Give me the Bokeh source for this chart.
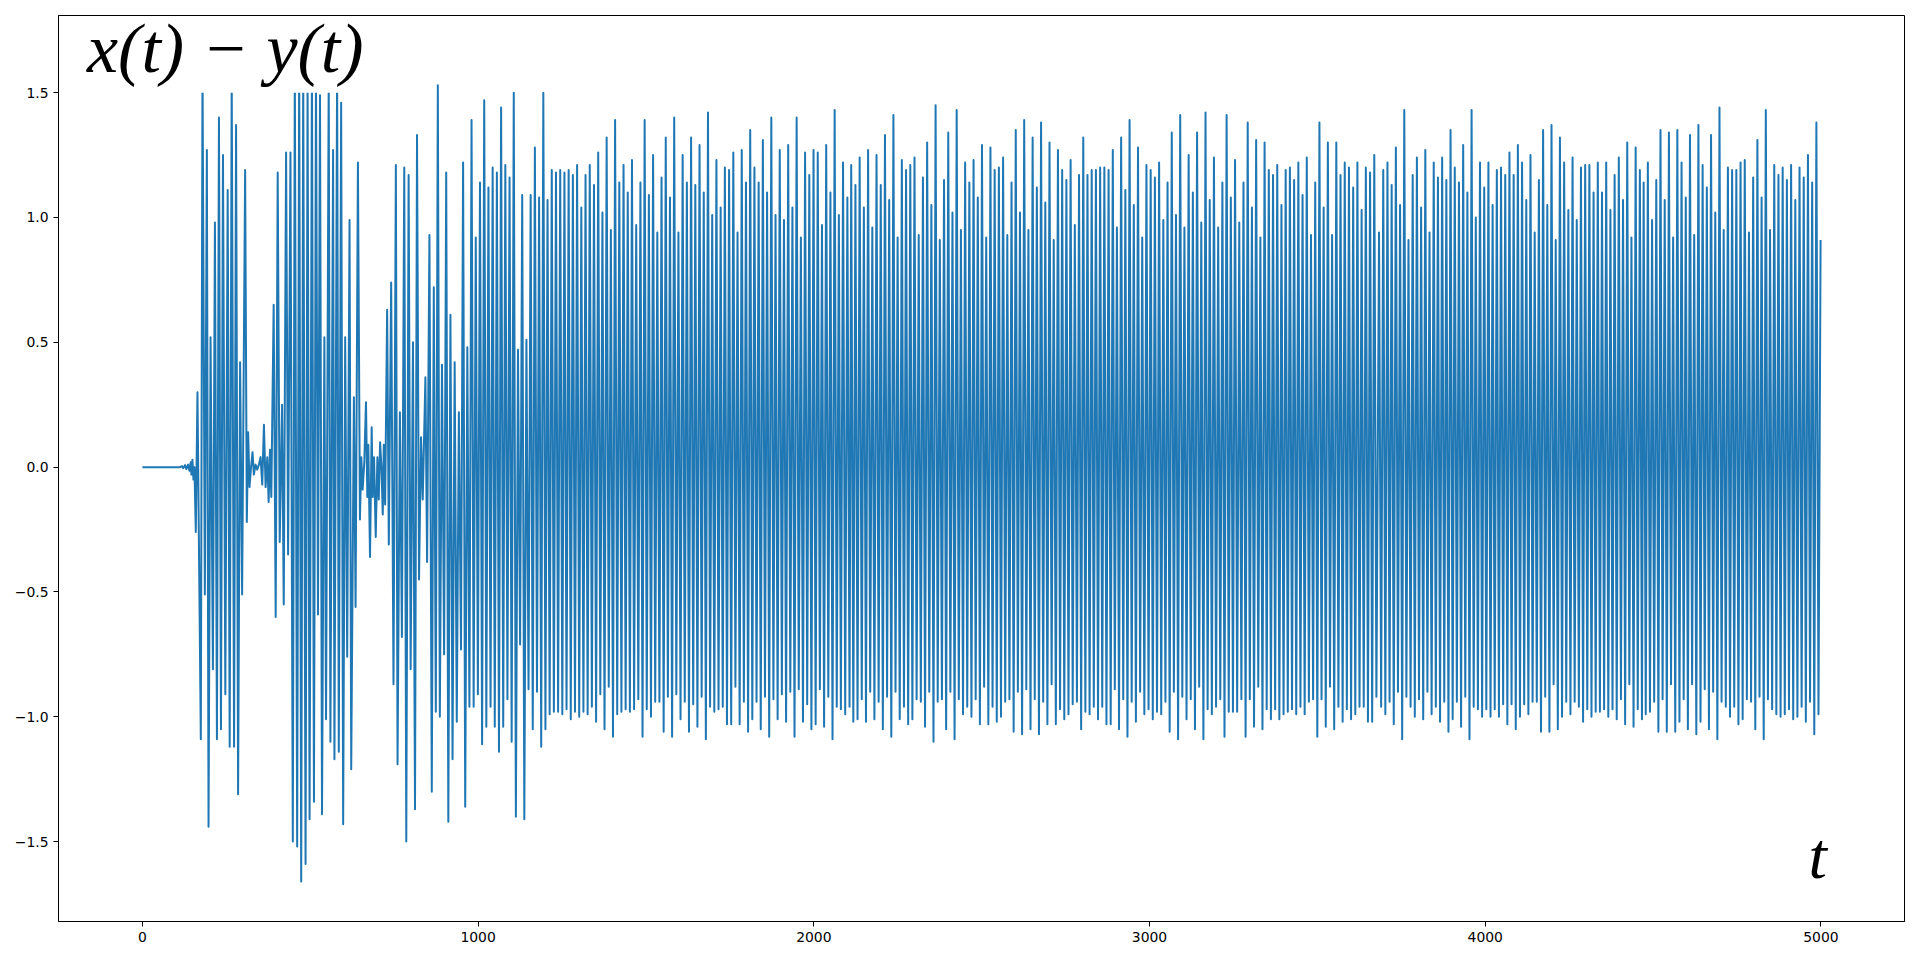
import numpy as np
from bokeh.plotting import figure
from bokeh.models import Range1d, FixedTicker, Label, BoxAnnotation
from bokeh.embed import file_html
from bokeh.resources import INLINE

# ---------------- data ----------------
# irregular start-up part: extremum times and values
t_early = [0, 113, 118, 122, 127, 131, 136, 140, 144, 146, 149, 152, 155, 159, 164, 174, 179, 186, 192, 197,
           203, 210, 216, 222, 228, 234, 240, 247, 254, 260, 266, 273, 279, 285, 291, 297, 306, 311, 315, 319,
           323, 328, 332, 337, 342, 347, 352, 357, 362, 367, 372, 376, 380, 384, 391, 397, 403, 409, 416, 421,
           428, 434, 441, 448, 454, 461, 467, 473, 479, 486, 492, 498, 505, 511, 517, 523, 529, 535, 542, 547,
           555, 560, 568, 572, 580, 585, 592, 598, 604, 610, 617, 622, 630, 635, 642, 648, 652, 656, 661, 666,
           670, 673, 678, 683, 686, 690, 695, 700, 704, 708, 712, 716, 719, 723, 729, 734, 741, 748, 755, 760,
           767, 773, 780, 786, 793, 799, 806, 812, 818, 824, 830, 835, 843, 848, 855, 862, 868, 874, 880, 886]
v_early = [0.0, 0.0, 0.004, -0.004, 0.008, -0.008, 0.01, -0.015, 0.02, -0.03, 0.03, -0.05, 0.0, -0.26, 0.30, -1.09, 1.62, -0.51, 1.27, -1.44,
           0.52, -0.81, 0.98, -1.09, 1.40, -1.05, 1.25, -0.91, 1.11, -1.12, 1.58, -1.12, 1.37, -1.31, 0.42, -0.51, 1.19, -0.22, 0.14, -0.08,
           -0.01, 0.06, -0.03, 0.01, -0.01, 0.01, 0.04, -0.07, 0.17, -0.08, 0.04, -0.14, 0.07, -0.12, 0.65, -0.60, 1.18, -0.30, 0.25, -0.55,
           1.26, -0.35, 1.26, -1.50, 1.60, -1.52, 1.63, -1.66, 1.58, -1.59, 1.55, -1.41, 1.61, -1.34, 1.57, -0.59, 1.49, -1.39, 0.52, -1.01,
           1.56, -1.10, 1.27, -1.17, 1.59, -1.14, 1.46, -1.43, 0.52, -0.76, 0.99, -1.21, 0.28, -0.56, 1.22, -0.21, 0.04, -0.09, 0.02, 0.26,
           -0.12, 0.09, -0.36, 0.16, -0.12, 0.04, -0.28, 0.04, -0.13, 0.10, 0.0, -0.19, 0.09, -0.15, 0.63, -0.31, 0.74, -0.87, 1.21, -1.19,
           0.22, -0.68, 1.20, -1.50, 1.17, -0.81, 0.50, -1.37, 1.33, -0.45, 0.12, -0.13, 0.36, -0.38, 0.93, -1.30, 0.72, -0.98, 1.53, -1.00]

# steady oscillation: successive maxima / minima, in blocks
tops_A = [0.41, 1.18, 0.61, 0.42, 0.22, 1.22, 0.48, 1.39, 0.92, 1.14,
          1.47, 1.12, 1.20, 1.18, 1.44, 1.21, 1.16, 1.50, 0.47, 1.09,
          0.51, 1.09, 1.28, 1.08, 1.50, 1.07, 1.19, 1.18, 1.19, 1.18,
          1.19, 1.17, 1.21, 1.04, 1.17, 1.21, 1.13, 1.26, 1.02, 1.32,
          0.95, 1.39, 1.14, 1.21, 1.10, 1.23, 0.97, 1.14, 1.39, 1.09,
          1.25, 0.94, 1.16, 1.32, 1.08, 1.40, 0.94, 1.25, 1.14, 1.32,
          1.13, 1.29, 1.10, 1.42, 1.01, 1.23, 1.04, 1.20, 1.19, 1.26,
          0.94, 1.27, 1.14, 1.35, 1.20, 1.14, 1.31, 1.10, 1.40, 1.01,
          1.27, 0.99, 1.29, 1.04, 1.40, 0.92, 1.26, 1.17, 1.27, 1.26,
          0.97, 1.29, 1.10, 1.43, 1.01]
bots_A = [-0.75, -1.42, -1.17, -1.02, -0.73, -1.36, -0.96, -0.96, -0.91, -1.11,
          -1.04, -0.96, -1.04, -1.14, -1.04, -0.93, -1.10, -1.40, -0.71, -1.41,
          -0.89, -1.05, -0.90, -1.12, -1.05, -0.99, -0.98, -0.98, -0.99, -0.97,
          -1.01, -0.98, -1.00, -0.98, -0.99, -0.96, -1.02, -0.91, -1.05, -0.88,
          -1.08, -0.99, -0.98, -0.97, -0.98, -0.97, -0.93, -1.08, -0.97, -1.00,
          -0.94, -0.94, -1.06, -0.92, -1.08, -0.91, -1.01, -0.94, -1.06, -0.95,
          -1.04, -0.92, -1.09, -0.96, -0.98, -0.97, -0.96, -1.03, -1.03, -0.88,
          -1.03, -0.94, -1.06, -1.01, -0.94, -1.05, -0.92, -1.08, -0.93, -1.01,
          -0.91, -1.02, -0.90, -1.08, -0.89, -1.02, -0.95, -1.05, -1.03, -0.89,
          -1.04, -0.92, -1.09, -0.96]
vals_B = [-0.97, 1.22, -0.99, 1.08, -0.96]
tops_C = [1.21, 1.13, 1.24, 1.04, 1.27, 0.96, 1.25, 1.13, 1.33, 1.07,
          1.41, 0.92, 1.23, 1.19, 1.21, 1.24, 0.93, 1.16, 1.30, 1.05,
          1.45, 0.91, 1.15, 1.34, 1.02, 1.43, 0.95, 1.22, 1.14, 1.23,
          1.08, 1.29, 0.92, 1.28, 1.19, 1.20, 1.24, 0.93, 1.14, 1.35,
          1.02, 1.39, 0.95, 1.32, 1.12, 1.38, 1.06, 1.30, 0.91, 1.27,
          1.19, 1.15, 1.23, 0.97, 1.17, 1.32, 1.17, 1.19, 1.19, 1.20,
          1.20, 1.19, 1.27]
bots_C = [-1.02, -1.01, -0.93, -1.02, -0.90, -1.01, -0.94, -1.05, -0.92, -1.08,
          -0.90, -1.01, -0.96, -1.03, -1.01, -0.93, -0.94, -1.04, -0.90, -1.10,
          -0.94, -0.93, -1.05, -0.90, -1.09, -0.93, -0.99, -0.96, -1.00, -0.93,
          -1.03, -0.88, -1.03, -0.96, -1.02, -1.00, -0.94, -0.93, -1.06, -0.90,
          -1.07, -0.89, -1.05, -0.93, -1.07, -0.94, -1.03, -0.87, -1.03, -0.97,
          -1.01, -0.99, -0.95, -0.94, -1.05, -0.98, -0.99, -0.96, -1.01, -0.96,
          -1.03, -1.03]
tops_D = [0.96, 1.32, 1.11, 1.39, 1.05, 1.28, 0.92, 1.21, 1.19, 1.16,
          1.22, 0.99, 1.14, 1.34, 1.01, 1.41, 0.96, 1.25, 1.10, 1.34,
          0.98, 1.42, 1.07, 1.24, 0.96, 1.14, 1.41, 1.08, 1.23, 0.98,
          1.14, 1.38, 1.04, 1.31, 0.92, 1.30, 1.19, 1.17, 1.21, 1.05,
          1.19, 1.20, 1.15, 1.22, 1.09, 1.24, 0.93, 1.14, 1.38, 1.04,
          1.30, 0.93, 1.30, 1.17, 1.22, 1.20, 1.12, 1.22, 1.03, 1.20,
          1.18, 1.25]
bots_D = [-0.89, -1.05, -0.93, -1.08, -0.94, -1.02, -0.90, -0.99, -0.97, -1.01,
          -0.98, -0.99, -0.94, -1.06, -0.90, -1.09, -0.92, -1.01, -0.93, -1.05,
          -0.88, -1.09, -0.97, -0.99, -0.96, -0.93, -1.08, -0.98, -0.98, -0.98,
          -0.93, -1.08, -0.93, -1.04, -0.88, -1.05, -0.97, -1.01, -0.97, -1.01,
          -0.99, -0.98, -0.97, -0.99, -0.96, -0.99, -0.94, -0.93, -1.08, -0.93,
          -1.04, -0.88, -1.05, -0.96, -1.02, -0.97, -1.01, -0.99, -0.96, -0.96,
          -1.02, -1.02, -0.92]
tops_E = [0.94, 1.19, 1.22, 1.13, 1.28, 1.05, 1.43, 0.91, 1.17, 1.24,
          1.04, 1.27, 0.94, 1.22, 1.16, 1.24, 1.15, 1.35, 1.20, 1.14,
          1.29, 1.10, 1.43, 1.00, 1.22, 1.12, 1.22, 1.05, 1.19, 1.20,
          1.17, 1.26, 1.17, 1.29, 1.22, 1.07, 1.25, 0.94, 1.15, 1.35,
          1.05, 1.37, 0.91, 1.32, 1.22, 1.03, 1.24, 0.99, 1.20, 1.21,
          1.21, 1.10, 1.22, 1.10, 1.22, 1.03, 1.17, 1.24, 1.07, 1.30,
          0.92, 1.28, 1.19]
bots_E = [-0.96, -0.99, -0.94, -1.03, -0.90, -1.09, -0.92, -0.96, -1.00, -0.93,
          -1.01, -0.90, -0.99, -0.96, -1.02, -0.94, -1.06, -1.01, -0.94, -1.04,
          -0.92, -1.09, -0.96, -0.97, -1.00, -0.97, -1.00, -0.97, -1.00, -0.95,
          -1.03, -0.95, -1.05, -1.00, -0.95, -0.99, -0.94, -0.94, -1.06, -0.92,
          -1.06, -0.87, -1.05, -1.00, -0.94, -0.99, -0.94, -0.96, -1.02, -0.97,
          -1.00, -0.98, -0.98, -0.97, -1.00, -0.97, -1.01, -0.93, -1.03, -0.87,
          -1.04, -0.97, -1.01]
tops_F = [1.14, 1.22, 0.99, 1.15, 1.35, 1.07, 1.34, 0.92, 1.35, 1.22,
          1.08, 1.33, 0.93, 1.37, 1.21, 1.12, 1.33, 1.02, 1.44, 0.95,
          1.20, 1.19, 1.19, 1.22, 1.23, 0.94, 1.16, 1.31, 1.08, 1.43,
          0.95, 1.21, 1.17, 1.20, 1.15, 1.21, 1.07, 1.20, 1.16, 1.25,
          1.14, 1.38, 0.91]
bots_F = [-0.99, -0.98, -0.94, -1.06, -0.93, -1.06, -0.87, -1.06, -1.02, -0.93,
          -1.05, -0.87, -1.07, -1.02, -0.89, -1.05, -0.90, -1.09, -0.94, -0.96,
          -1.00, -0.96, -1.03, -1.01, -0.93, -0.94, -1.05, -0.92, -1.09, -0.93,
          -0.97, -0.99, -1.00, -0.99, -0.97, -1.01, -1.00, -0.96, -1.02, -0.94,
          -1.07, -0.99]
# time span (first, last extremum) of each block
block_start = [892.4, 2080.6, 2111.4, 2896.6, 3683.7, 4471.9]
block_end = [2074.6, 2106.4, 2890.6, 3675.8, 4466.9, 4999.0]

y_ticks = [-1.5, -1.0, -0.5, 0.0, 0.5, 1.0, 1.5]
y_tick_labels = ["\u22121.5", "\u22121.0", "\u22120.5", "0.0", "0.5", "1.0", "1.5"]
x_ticks = [0, 1000, 2000, 3000, 4000, 5000]
x_tick_labels = ["0", "1000", "2000", "3000", "4000", "5000"]


def interleave(a, b):
    out = []
    for i in range(max(len(a), len(b))):
        if i < len(a):
            out.append(a[i])
        if i < len(b):
            out.append(b[i])
    return out


blocks = [interleave(tops_A, bots_A), vals_B, interleave(tops_C, bots_C),
          interleave(bots_D, tops_D), interleave(tops_E, bots_E), interleave(tops_F, bots_F)]

t_all = list(t_early)
v_all = list(v_early)
for vals, s, e in zip(blocks, block_start, block_end):
    t_all.extend(np.linspace(s, e, len(vals)).tolist())
    v_all.extend(vals)

# ---------------- figure ----------------
p = figure(width=1912, height=953, output_backend="svg", toolbar_location=None,
           x_range=Range1d(-249.95, 5248.95), y_range=Range1d(-1.820, 1.809),
           min_border_left=58, min_border_right=8, min_border_top=15, min_border_bottom=32)
p.grid.visible = False
p.outline_line_color = "black"
p.outline_line_width = 1
p.outline_line_alpha = 1

p.line(t_all, v_all, line_color="#1f77b4", line_width=2, line_join="round")

for ax in (p.xaxis[0], p.yaxis[0]):
    ax.axis_line_color = "black"
    ax.axis_line_width = 1
    ax.major_tick_line_color = "black"
    ax.major_tick_line_width = 1
    ax.major_tick_in = 0
    ax.major_tick_out = 5
    ax.minor_tick_line_color = None
    ax.major_label_text_font = "DejaVu Sans"
    ax.major_label_text_font_size = "13.9px"
    ax.major_label_text_color = "black"
    ax.major_label_standoff = 5

p.xaxis[0].ticker = FixedTicker(ticks=x_ticks)
p.xaxis[0].major_label_overrides = {k: v for k, v in zip(x_ticks, x_tick_labels)}
p.yaxis[0].ticker = FixedTicker(ticks=y_ticks)
p.yaxis[0].major_label_overrides = {k: v for k, v in zip(y_ticks, y_tick_labels)}

# white box behind the formula (as in the reference)
p.add_layout(BoxAnnotation(left=-205, right=670, bottom=1.5, top=1.80,
                           fill_color="white", fill_alpha=1.0, line_color=None, line_alpha=0))
p.add_layout(Label(x=-165, y=1.678, text="x(t) \u2212 y(t)", text_font="Liberation Serif",
                   text_font_style="italic", text_font_size="70px", text_color="black",
                   text_align="left", text_baseline="alphabetic"))
p.add_layout(Label(x=4990, y=-1.556, text="t", text_font="Liberation Serif",
                   text_font_style="italic", text_font_size="66px", text_color="black",
                   text_align="center", text_baseline="alphabetic"))

open("out.html", "w").write(file_html(p, INLINE))
